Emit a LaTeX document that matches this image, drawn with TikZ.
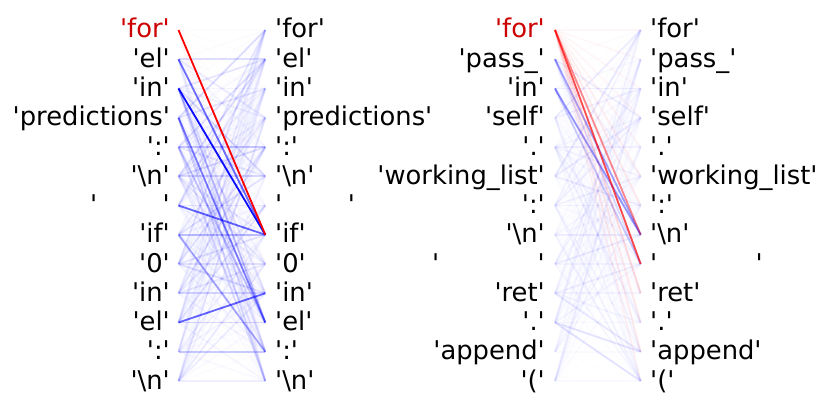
\documentclass[tikz,border=0pt]{standalone}
\usepackage{fontspec}
\setmainfont{DejaVu Sans}
\definecolor{forred}{RGB}{204,0,0}
\definecolor{attblue}{RGB}{0,0,255}
\definecolor{attred}{RGB}{255,0,0}
\newcommand\qq[1]{\textquotesingle#1\textquotesingle}
\newcommand\myparen{(}
\begin{document}
\begin{tikzpicture}[x=1pt,y=-1pt,
  tok/.style={font=\fontsize{25.8}{30}\selectfont, inner sep=0pt},
  ltok/.style={tok, anchor=base east},
  rtok/.style={tok, anchor=base west},
  att/.style={line width=1.8pt}]
\useasboundingbox (0,0) rectangle (830,412);
% ---------- left panel: endpoints and tokens
\foreach \t [count=\k from 0] in {for, el, in, predictions, :, \textbackslash n, {\ \ \ \ \ \ \ \ }, if, 0, in, el, :, \textbackslash n}{
  \pgfmathsetmacro\yy{30+29.25*\k}
  \coordinate (A-pl-\k) at (178.5,\yy);
  \coordinate (A-pr-\k) at (265.3,\yy);
  \ifnum\k=0
    \node[ltok, text=forred] (A-l-\k) at (170,\yy+8) {\qq{\t}};
  \else
    \node[ltok] (A-l-\k) at (170,\yy+8) {\qq{\t}};
  \fi
  \node[rtok] (A-r-\k) at (275,\yy+8) {\qq{\t}};
}
% ---------- right panel: endpoints and tokens
\foreach \t [count=\k from 0] in {for, pass\_, in, self, ., working\_list, :, \textbackslash n, {\ \ \ \ \ \ \ \ \ \ \ \ }, ret, ., append, \myparen}{
  \pgfmathsetmacro\yy{30+29.25*\k}
  \coordinate (B-pl-\k) at (555,\yy);
  \coordinate (B-pr-\k) at (640.7,\yy);
  \ifnum\k=0
    \node[ltok, text=forred] (B-l-\k) at (545,\yy+8) {\qq{\t}};
  \else
    \node[ltok] (B-l-\k) at (545,\yy+8) {\qq{\t}};
  \fi
  \node[rtok] (B-r-\k) at (650,\yy+8) {\qq{\t}};
}
% ---------- left panel attention lines
\foreach \i in {1,...,12}{
  \foreach \j in {0,...,12}{
    \pgfmathsetmacro\w{0.008+0.13*(frac(abs(sin(\i*47.3+\j*83.1+5.7))*31.7))^3}
    \draw[att, attblue, draw opacity=\w] (A-pl-\i) -- (A-pr-\j);
  }
}
\foreach \j in {0,...,12}{
  \draw[att, attred, draw opacity=0.01] (A-pl-0) -- (A-pr-\j);
}
\foreach \i/\j/\w in {4/4/0.1, 5/5/0.15, 6/6/0.08, 7/7/0.25, 8/8/0.1, 9/9/0.15, 10/10/0.15, 11/11/0.2, 12/12/0.06,
  1/7/0.55, 2/7/0.95, 3/10/0.5, 2/10/0.25, 4/10/0.2, 6/7/0.6, 7/11/0.35, 10/9/0.6, 5/1/0.12, 4/1/0.1, 3/12/0.12, 4/12/0.12}{
  \draw[att, attblue, draw opacity=\w] (A-pl-\i) -- (A-pr-\j);
}
\draw[att, attred] (A-pl-0) -- (A-pr-7);
% ---------- right panel attention lines
\foreach \i in {1,...,12}{
  \foreach \j in {0,...,12}{
    \pgfmathsetmacro\w{0.005+0.07*(frac(abs(sin(\i*61.7+\j*29.3+2.1))*27.3))^3}
    \draw[att, attblue, draw opacity=\w] (B-pl-\i) -- (B-pr-\j);
  }
}
\foreach \i/\j/\w in {1/7/0.35, 2/7/0.4, 2/8/0.2, 1/8/0.12, 10/11/0.1, 10/12/0.08, 9/11/0.08, 5/0/0.06, 3/0/0.06}{
  \draw[att, attblue, draw opacity=\w] (B-pl-\i) -- (B-pr-\j);
}
\foreach \j/\w in {0/0.03, 1/0.03, 2/0.03, 3/0.03, 4/0.04, 5/0.06, 6/0.08, 7/0.45, 8/0.7, 9/0.15, 10/0.08, 11/0.08, 12/0.05}{
  \draw[att, attred, draw opacity=\w] (B-pl-0) -- (B-pr-\j);
}
\end{tikzpicture}
\end{document}
